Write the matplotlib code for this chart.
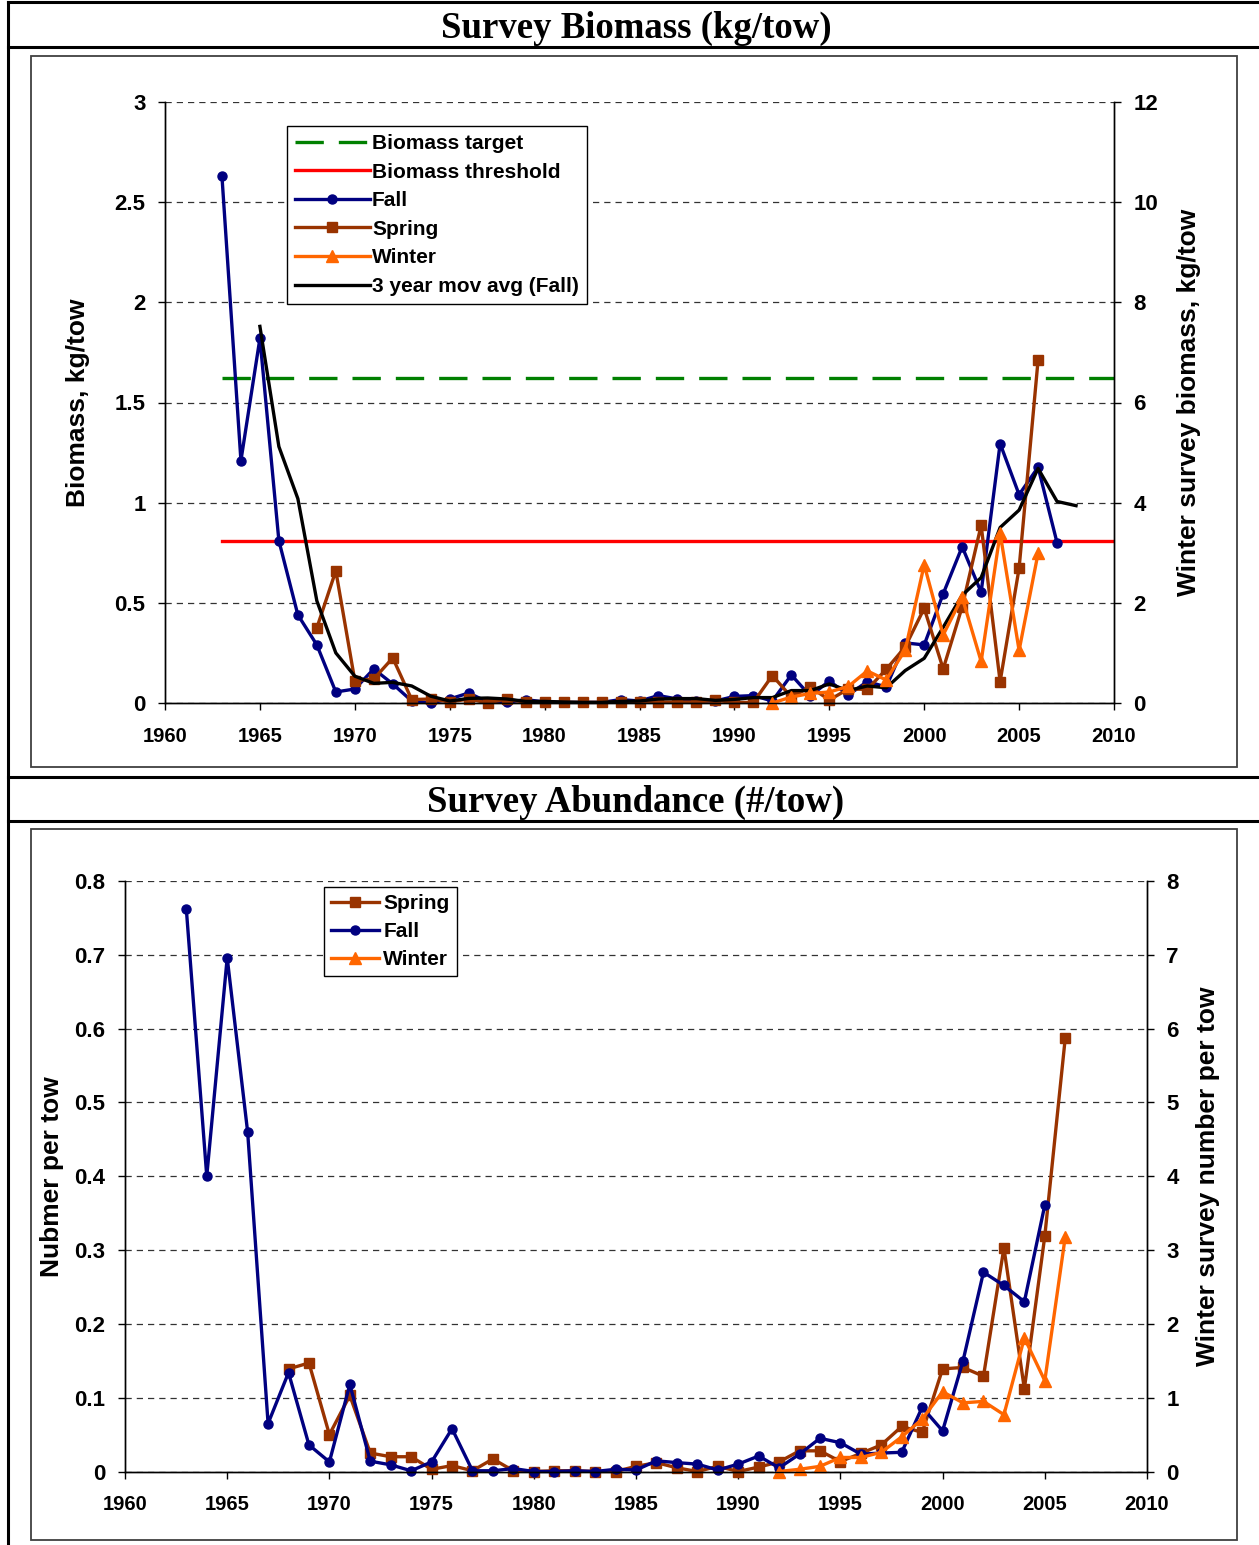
import numpy as np
import matplotlib
matplotlib.use("Agg")
import matplotlib.pyplot as plt
from matplotlib.lines import Line2D
from matplotlib.patches import Rectangle
from matplotlib.ticker import MultipleLocator, FormatStrFormatter

plt.rcParams['font.family'] = ['Liberation Sans', 'DejaVu Sans']
plt.rcParams['font.weight'] = 'bold'

# ---------------------------------------------------------
# Data
# ---------------------------------------------------------
# Survey biomass (kg/tow)
bio_fall_years = list(range(1963, 2008))
bio_fall = [2.63, 1.21, 1.82, 0.81, 0.44, 0.29, 0.055, 0.07, 0.17, 0.095,
            0.01, 0.0, 0.02, 0.05, 0.005, 0.003, 0.017, 0.005, 0.003, 0.003,
            0.003, 0.017, 0.01, 0.037, 0.02, 0.01, 0.01, 0.033, 0.037, 0.01,
            0.14, 0.035, 0.11, 0.04, 0.107, 0.08, 0.30, 0.29, 0.545, 0.78,
            0.553, 1.295, 1.04, 1.177, 0.80]

bio_spring_years = list(range(1968, 2007))
bio_spring = [0.375, 0.66, 0.112, 0.12, 0.225, 0.017, 0.02, 0.005, 0.02, 0.0,
              0.02, 0.003, 0.003, 0.003, 0.003, 0.003, 0.005, 0.005, 0.005, 0.005,
              0.005, 0.013, 0.003, 0.003, 0.137, 0.03, 0.08, 0.015, 0.07, 0.068,
              0.168, 0.28, 0.473, 0.17, 0.48, 0.887, 0.107, 0.673, 1.712]

bio_winter_years = list(range(1992, 2007))
bio_winter = [0.0, 0.12, 0.19, 0.22, 0.33, 0.64, 0.46, 1.06, 2.76, 1.36,
              2.11, 0.83, 3.39, 1.05, 2.99]

bio_ma_years = list(range(1965, 2009))
bio_ma = [1.88, 1.28, 1.02, 0.51, 0.25, 0.134, 0.098, 0.103, 0.085, 0.034,
          0.01, 0.023, 0.025, 0.02, 0.008, 0.008, 0.005, 0.003, 0.003, 0.008,
          0.01, 0.02, 0.022, 0.022, 0.013, 0.018, 0.027, 0.027, 0.062, 0.062,
          0.095, 0.062, 0.085, 0.076, 0.162, 0.223, 0.378, 0.538, 0.626, 0.876,
          0.963, 1.171, 1.006, 0.985]

bio_ref_years = [1963, 2010]
bio_target = 1.62
bio_threshold = 0.81

# Survey abundance (#/tow)
abu_fall_years = list(range(1963, 2006))
abu_fall = [0.762, 0.40, 0.696, 0.46, 0.065, 0.134, 0.036, 0.013, 0.118, 0.014,
            0.009, 0.001, 0.013, 0.058, 0.001, 0.001, 0.004, 0.0, 0.0, 0.001,
            0.0, 0.003, 0.002, 0.0145, 0.012, 0.01, 0.002, 0.01, 0.021, 0.005,
            0.0235, 0.045, 0.039, 0.0235, 0.025, 0.026, 0.087, 0.055, 0.15, 0.27,
            0.252, 0.23, 0.361]

abu_spring_years = list(range(1968, 2007))
abu_spring = [0.139, 0.147, 0.05, 0.103, 0.025, 0.02, 0.02, 0.003, 0.008, 0.001,
              0.017, 0.001, 0.0, 0.001, 0.001, 0.0, 0.0, 0.007, 0.012, 0.005,
              0.0, 0.007, 0.0, 0.006, 0.013, 0.028, 0.028, 0.0135, 0.0245, 0.036,
              0.061, 0.053, 0.139, 0.141, 0.129, 0.303, 0.112, 0.319, 0.587]

abu_winter_years = list(range(1992, 2007))
abu_winter = [0.0, 0.03, 0.07, 0.19, 0.19, 0.26, 0.47, 0.71, 1.08, 0.93,
              0.95, 0.77, 1.81, 1.23, 3.18]

# ---------------------------------------------------------
# Styles
# ---------------------------------------------------------
C_FALL = '#000080'
C_SPRING = '#993300'
C_WINTER = '#FF6600'
C_TARGET = '#008000'
C_THRESH = '#FF0000'
LW = 2.4

W, H = 1259, 1545
fig = plt.figure(figsize=(W / 100, H / 100), dpi=100)


def fx(px):
    return px / W


def fy(py):
    return 1 - py / H


# --- page frame (table-like borders) ---
for y0 in [2, 47, 777, 821]:
    fig.add_artist(Line2D([fx(8), 1], [fy(y0), fy(y0)], color='black', lw=2.2))
fig.add_artist(Line2D([fx(8), fx(8)], [fy(2), 0], color='black', lw=2.2))

# --- chart area boxes ---
for top, bot in [(56, 767), (829, 1540)]:
    fig.add_artist(Rectangle((fx(31), fy(bot)), fx(1237) - fx(31), fy(top) - fy(bot),
                             transform=fig.transFigure, fill=False,
                             edgecolor='#404040', lw=1.3))

fig.text(fx(636), fy(28), 'Survey Biomass (kg/tow)', ha='center', va='center',
         family='Liberation Serif', fontsize=26.5, weight='bold')
fig.text(fx(636), fy(802), 'Survey Abundance (#/tow)', ha='center', va='center',
         family='Liberation Serif', fontsize=26.5, weight='bold')


def style_axes(ax, ax2):
    for a in (ax, ax2):
        a.spines['top'].set_visible(False)
        for s in ('left', 'right', 'bottom'):
            a.spines[s].set_color('black')
            a.spines[s].set_linewidth(1.0)
    ax.grid(axis='y', color='#333333', linestyle=(0, (5, 4)), lw=0.9)
    ax.set_axisbelow(True)
    ax.tick_params(axis='x', direction='out', length=5, width=1,
                   labelsize=14.5, pad=12)
    ax.tick_params(axis='y', direction='out', length=5, width=1,
                   labelsize=16, pad=9)
    ax2.tick_params(axis='y', direction='out', length=5, width=1,
                    labelsize=16, pad=9)
    ax.set_xlim(1960, 2010)
    ax.xaxis.set_major_locator(MultipleLocator(5))


# ---------------------------------------------------------
# Top: biomass
# ---------------------------------------------------------
ax = fig.add_axes([fx(165), fy(703), fx(1114) - fx(165), fy(102) - fy(703)])
ax2 = ax.twinx()
style_axes(ax, ax2)
ax.set_ylim(0, 3)
ax.yaxis.set_major_locator(MultipleLocator(0.5))
ax.yaxis.set_major_formatter(FormatStrFormatter('%g'))
ax2.set_ylim(0, 12)
ax2.yaxis.set_major_locator(MultipleLocator(2))

h_t, = ax.plot(bio_ref_years, [bio_target] * 2, color=C_TARGET, lw=LW,
               dashes=(8.5, 4.5), label='Biomass target')
h_r, = ax.plot(bio_ref_years, [bio_threshold] * 2, color=C_THRESH, lw=LW,
               label='Biomass threshold')
h_f, = ax.plot(bio_fall_years, bio_fall, color=C_FALL, lw=LW, marker='o', ms=6.5,
               clip_on=False, label='Fall')
h_s, = ax.plot(bio_spring_years, bio_spring, color=C_SPRING, lw=LW, marker='s',
               ms=6.5, clip_on=False, label='Spring')
h_m, = ax.plot(bio_ma_years, bio_ma, color='black', lw=LW, label='3 year mov avg (Fall)')
h_w, = ax2.plot(bio_winter_years, bio_winter, color=C_WINTER, lw=LW, marker='^',
                ms=8, clip_on=False, label='Winter')

ax.set_ylabel('Biomass, kg/tow', fontsize=19, weight='bold')
ax.yaxis.set_label_coords((90 - 165) / 949, 0.5)
ax2.set_ylabel('Winter survey biomass, kg/tow', fontsize=19, weight='bold')
ax2.yaxis.set_label_coords((1177 - 165) / 949, 0.5)

leg = ax2.legend(handles=[h_t, h_r, h_f, h_s, h_w, h_m], loc='upper left',
                 bbox_to_anchor=((287 - 165) / 949, (703 - 126) / 601),
                 fontsize=15, frameon=True, fancybox=False, framealpha=1,
                 edgecolor='black', handlelength=3.6, handletextpad=0.1,
                 labelspacing=0.46, borderpad=0.38, borderaxespad=0)
leg.get_frame().set_linewidth(1.0)

# ---------------------------------------------------------
# Bottom: abundance
# ---------------------------------------------------------
bx = fig.add_axes([fx(125), fy(1471.5), fx(1147) - fx(125), fy(881) - fy(1471.5)])
bx2 = bx.twinx()
style_axes(bx, bx2)
bx.set_ylim(0, 0.8)
bx.yaxis.set_major_locator(MultipleLocator(0.1))
bx.yaxis.set_major_formatter(FormatStrFormatter('%g'))
bx2.set_ylim(0, 8)
bx2.yaxis.set_major_locator(MultipleLocator(1))

g_s, = bx.plot(abu_spring_years, abu_spring, color=C_SPRING, lw=LW, marker='s',
               ms=6.5, clip_on=False, label='Spring')
g_f, = bx.plot(abu_fall_years, abu_fall, color=C_FALL, lw=LW, marker='o', ms=6.5,
               clip_on=False, label='Fall')
g_w, = bx2.plot(abu_winter_years, abu_winter, color=C_WINTER, lw=LW, marker='^',
                ms=8, clip_on=False, label='Winter')

bx.set_ylabel('Nubmer per tow', fontsize=19, weight='bold')
bx.yaxis.set_label_coords((64 - 125) / 1022, 0.5)
bx2.set_ylabel('Winter survey number per tow', fontsize=19, weight='bold')
bx2.yaxis.set_label_coords((1196 - 125) / 1022, 0.5)

leg2 = bx2.legend(handles=[g_s, g_f, g_w], loc='upper left',
                  bbox_to_anchor=((324 - 125) / 1022, (1471.5 - 887) / 590.5),
                  fontsize=15, frameon=True, fancybox=False, framealpha=1,
                  edgecolor='black', handlelength=2.3, handletextpad=0.2,
                  labelspacing=0.42, borderpad=0.35, borderaxespad=0)
leg2.get_frame().set_linewidth(1.0)

fig.savefig('out.png', dpi=100)
